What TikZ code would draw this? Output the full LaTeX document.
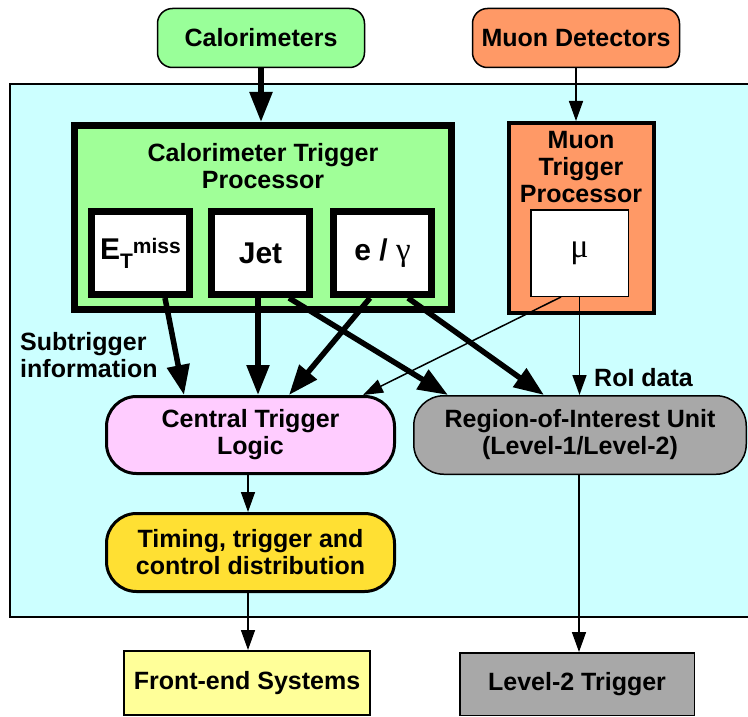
\documentclass[tikz,border=0pt]{standalone}
\usepackage{fontspec}
\setmainfont{Liberation Sans}
\newfontfamily\symf{Liberation Serif}
\usetikzlibrary{arrows.meta}
\definecolor{cyanbg}{HTML}{CCFFFF}
\definecolor{calogreen}{HTML}{99FF99}
\definecolor{ctpgreen}{HTML}{A0FF98}
\definecolor{muonorange}{HTML}{FF9966}
\definecolor{ctlpink}{HTML}{FFCCFF}
\definecolor{roigrey}{HTML}{A8A8A8}
\definecolor{ttcyellow}{HTML}{FFE033}
\definecolor{feyellow}{HTML}{FFFF99}
\begin{document}
\begin{tikzpicture}[x=1pt,y=-1pt,
  lbl/.style={font=\fontsize{25}{27}\selectfont\bfseries, align=center},
  box/.style={draw, inner sep=0pt, lbl},
  subbox/.style={draw, inner sep=0pt, fill=white, line width=7pt,
    minimum width=98pt, minimum height=83pt, font=\fontsize{30}{30}\selectfont\bfseries},
  bigarrow/.style={line width=5.5pt, -{Triangle[length=30pt,width=22pt]}},
  smallarrow/.style={line width=1.5pt, -{Triangle[length=20pt,width=14pt]}}]
\useasboundingbox (0,0) rectangle (748,717);
% background
\draw[line width=1.5pt, fill=cyanbg] (10,84) rectangle (790,617);
% sources
\node[box, line width=1.5pt, rounded corners=15pt, fill=calogreen,
  minimum width=207pt, minimum height=59pt] (calo) at (261,38) {Calorimeters};
\node[box, line width=1.5pt, rounded corners=15pt, fill=muonorange,
  minimum width=207pt, minimum height=59pt] (muon) at (576,38) {Muon Detectors};
% calorimeter trigger processor
\node[box, line width=7pt, fill=ctpgreen,
  minimum width=377pt, minimum height=184pt] (ctp) at (263,217.5) {};
\node[lbl] (ctptitle) at (263,166.5) {Calorimeter Trigger\\Processor};
\node[subbox] (etm) at (140.5,253) {E\raisebox{-9pt}{\fontsize{21}{21}\selectfont T}\raisebox{6pt}{\fontsize{21}{21}\selectfont miss}};
\node[subbox] (jet) at (260.5,253) {Jet};
\node[subbox] (eg) at (382.5,253) {e / {\symf\mdseries\fontsize{33}{33}\selectfont γ}};
% muon trigger processor
\node[box, line width=4pt, fill=muonorange,
  minimum width=145pt, minimum height=190pt] (mtp) at (581.5,218) {};
\node[lbl] (mtptitle) at (581,167) {Muon\\Trigger\\Processor};
\node[draw, inner sep=0pt, fill=white, line width=1.5pt,
  minimum width=97.5pt, minimum height=86.5pt,
  font=\symf\fontsize{34}{34}\selectfont] (mu) at (579.5,253) {μ};
% lower boxes
\node[box, line width=3pt, rounded corners=30pt, fill=ctlpink,
  minimum width=288pt, minimum height=77pt] (ctl) at (250.5,435) {Central Trigger\\Logic};
\node[box, line width=1.5pt, rounded corners=30pt, fill=roigrey,
  minimum width=332.5pt, minimum height=78.5pt] (roi) at (580,435) {Region-of-Interest Unit\\(Level-1/Level-2)};
\node[box, line width=3pt, rounded corners=30pt, fill=ttcyellow,
  minimum width=288pt, minimum height=78pt] (ttc) at (250.5,552.5) {Timing, trigger and\\control distribution};
\node[box, line width=2pt, fill=feyellow,
  minimum width=246pt, minimum height=64pt] (fe) at (247,683) {Front-end Systems};
\node[box, line width=1.5pt, fill=roigrey,
  minimum width=234.5pt, minimum height=62.5pt] (l2) at (577,684) {Level-2 Trigger};
% labels
\node[lbl, align=left, anchor=west, inner sep=0pt] (subtrig) at (20,355) {Subtrigger\\information};
\node[lbl, anchor=west, inner sep=0pt] (roidata) at (594,378) {RoI data};
% connectors
\draw[bigarrow] (calo.south) -- (calo.south |- ctp.north);
\draw[smallarrow] (muon.south) -- (muon.south |- mtp.north);
\draw[bigarrow] ([xshift=24.5pt]etm.south) -- ([xshift=-66.5pt]ctl.north);
\draw[bigarrow] ([xshift=-2.5pt]jet.south) -- ([xshift=-2.5pt]jet.south |- ctl.north);
\draw[bigarrow] ([xshift=28.5pt]jet.south) -- ([xshift=-132pt]roi.north);
\draw[bigarrow] ([xshift=-12.5pt]eg.south) -- ([xshift=38.5pt]ctl.north);
\draw[bigarrow] ([xshift=25.5pt]eg.south) -- ([xshift=-36pt]roi.north);
\draw[smallarrow] ([xshift=-18.5pt]mu.south) -- ([xshift=112.5pt]ctl.north);
\draw[smallarrow] (mu.south) -- (mu.south |- roi.north);
\draw[smallarrow] ([xshift=-2.5pt]ctl.south) -- ([xshift=-2.5pt]ctl.south |- ttc.north);
\draw[smallarrow] ([xshift=-2.5pt]ttc.south) -- ([xshift=-2.5pt]ttc.south |- fe.north);
\draw[smallarrow] ([xshift=-1pt]roi.south) -- ([xshift=-1pt]roi.south |- l2.north);
\end{tikzpicture}
\end{document}
